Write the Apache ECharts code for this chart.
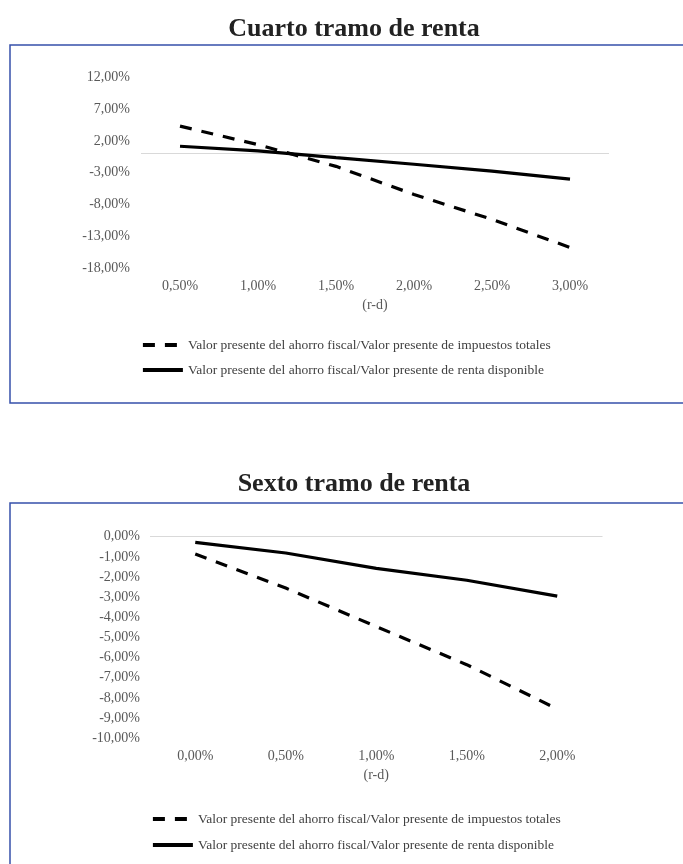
<!DOCTYPE html>
<html>
<head>
<meta charset="utf-8">
<script src="https://cdn.jsdelivr.net/npm/echarts@6/dist/echarts.min.js"></script>
<style>
html,body{margin:0;padding:0;background:#fff;}
#main{width:683px;height:864px;}
</style>
</head>
<body>
<div id="main"></div>
<script>
// ---- Data ----
const seriesNames = [
  'Valor presente del ahorro fiscal/Valor presente de impuestos totales',
  'Valor presente del ahorro fiscal/Valor presente de renta disponible'
];
// Chart 1: Cuarto tramo de renta
const cat1 = ['0,50%', '1,00%', '1,50%', '2,00%', '2,50%', '3,00%'];
const imp1 = [4.3, 1.4, -2.0, -6.4, -10.3, -14.7];
const renta1 = [1.15, 0.44, -0.63, -1.67, -2.75, -4.0];
// Chart 2: Sexto tramo de renta
const cat2 = ['0,00%', '0,50%', '1,00%', '1,50%', '2,00%'];
const imp2 = [-0.86, -2.55, -4.46, -6.35, -8.55];
const renta2 = [-0.28, -0.81, -1.57, -2.16, -2.95];

const titles = ['Cuarto tramo de renta', 'Sexto tramo de renta'];
const axisName = '(r-d)';

// ---- Styling ----
const serif = '"Liberation Serif", "Times New Roman", serif';
const labelColor = '#595959';
const pctFmt = v => v.toFixed(2).replace('.', ',') + '%';

const chart = echarts.init(document.getElementById('main'), null, {renderer: 'canvas'});

function lineSeries(name, data, idx, dashed, withZero) {
  const s = {
    name: name,
    type: 'line',
    xAxisIndex: idx,
    yAxisIndex: idx,
    data: data,
    symbol: 'none',
    showSymbol: false,
    smooth: false,
    z: 5,
    lineStyle: {
      color: '#000',
      width: 3.2,
      type: dashed ? [12, 10] : 'solid',
      cap: 'butt'
    },
    itemStyle: {color: '#000'}
  };
  if (withZero) {
    s.markLine = {
      silent: true,
      symbol: 'none',
      animation: false,
      label: {show: false},
      lineStyle: {color: '#d9d9d9', width: 1, type: 'solid'},
      data: [{yAxis: 0}],
      z: 1
    };
  }
  return s;
}

function legendBlock(left, top, gap) {
  return {
    data: seriesNames, orient: 'vertical', left: left, top: top,
    padding: 0, itemWidth: 40, itemHeight: 16, itemGap: gap,
    itemStyle: {opacity: 0},
    lineStyle: {width: 3.8},
    textStyle: {fontFamily: serif, fontSize: 13.5, color: '#404040'},
    selectedMode: false
  };
}

const option = {
  animation: false,
  backgroundColor: '#fff',
  title: [
    {
      text: titles[0], left: 349, top: 11, textAlign: 'center',
      textStyle: {fontFamily: serif, fontWeight: 'bold', fontSize: 26, color: '#222'}
    },
    {
      text: titles[1], left: 349, top: 466, textAlign: 'center',
      textStyle: {fontFamily: serif, fontWeight: 'bold', fontSize: 26, color: '#222'}
    }
  ],
  graphic: [
    {type: 'rect', shape: {x: 10, y: 45, width: 690, height: 358},
     style: {fill: 'none', stroke: '#3650aa', lineWidth: 1.5}, silent: true, z: 0},
    {type: 'rect', shape: {x: 10, y: 503, width: 690, height: 420},
     style: {fill: 'none', stroke: '#3650aa', lineWidth: 1.5}, silent: true, z: 0}
  ],
  legend: [
    legendBlock(141, 338, 11),
    legendBlock(151, 812, 12)
  ],
  grid: [
    {left: 141, width: 468, top: 77, height: 191.5},
    {left: 150, width: 452.5, top: 536.7, height: 201.5}
  ],
  xAxis: [
    {
      type: 'category', gridIndex: 0, data: cat1, boundaryGap: true,
      axisLine: {show: false}, axisTick: {show: false}, splitLine: {show: false},
      axisLabel: {margin: 11, fontFamily: serif, fontSize: 14, color: labelColor},
      name: axisName, nameLocation: 'middle', nameGap: 30,
      nameTextStyle: {fontFamily: serif, fontSize: 14, color: labelColor}
    },
    {
      type: 'category', gridIndex: 1, data: cat2, boundaryGap: true,
      axisLine: {show: false}, axisTick: {show: false}, splitLine: {show: false},
      axisLabel: {margin: 11, fontFamily: serif, fontSize: 14, color: labelColor},
      name: axisName, nameLocation: 'middle', nameGap: 30,
      nameTextStyle: {fontFamily: serif, fontSize: 14, color: labelColor}
    }
  ],
  yAxis: [
    {
      type: 'value', gridIndex: 0, min: -18, max: 12, interval: 5,
      axisLine: {show: false}, axisTick: {show: false}, splitLine: {show: false},
      axisLabel: {margin: 11, fontFamily: serif, fontSize: 14, color: labelColor,
                  formatter: pctFmt, padding: [3, 0, 0, 0]}
    },
    {
      type: 'value', gridIndex: 1, min: -10, max: 0, interval: 1,
      axisLine: {show: false}, axisTick: {show: false}, splitLine: {show: false},
      axisLabel: {margin: 10, fontFamily: serif, fontSize: 14, color: labelColor,
                  formatter: pctFmt, padding: [3, 0, 0, 0]}
    }
  ],
  series: [
    lineSeries(seriesNames[0], imp1, 0, true, true),
    lineSeries(seriesNames[1], renta1, 0, false, false),
    lineSeries(seriesNames[0], imp2, 1, true, true),
    lineSeries(seriesNames[1], renta2, 1, false, false)
  ]
};
chart.setOption(option);
</script>
</body>
</html>
